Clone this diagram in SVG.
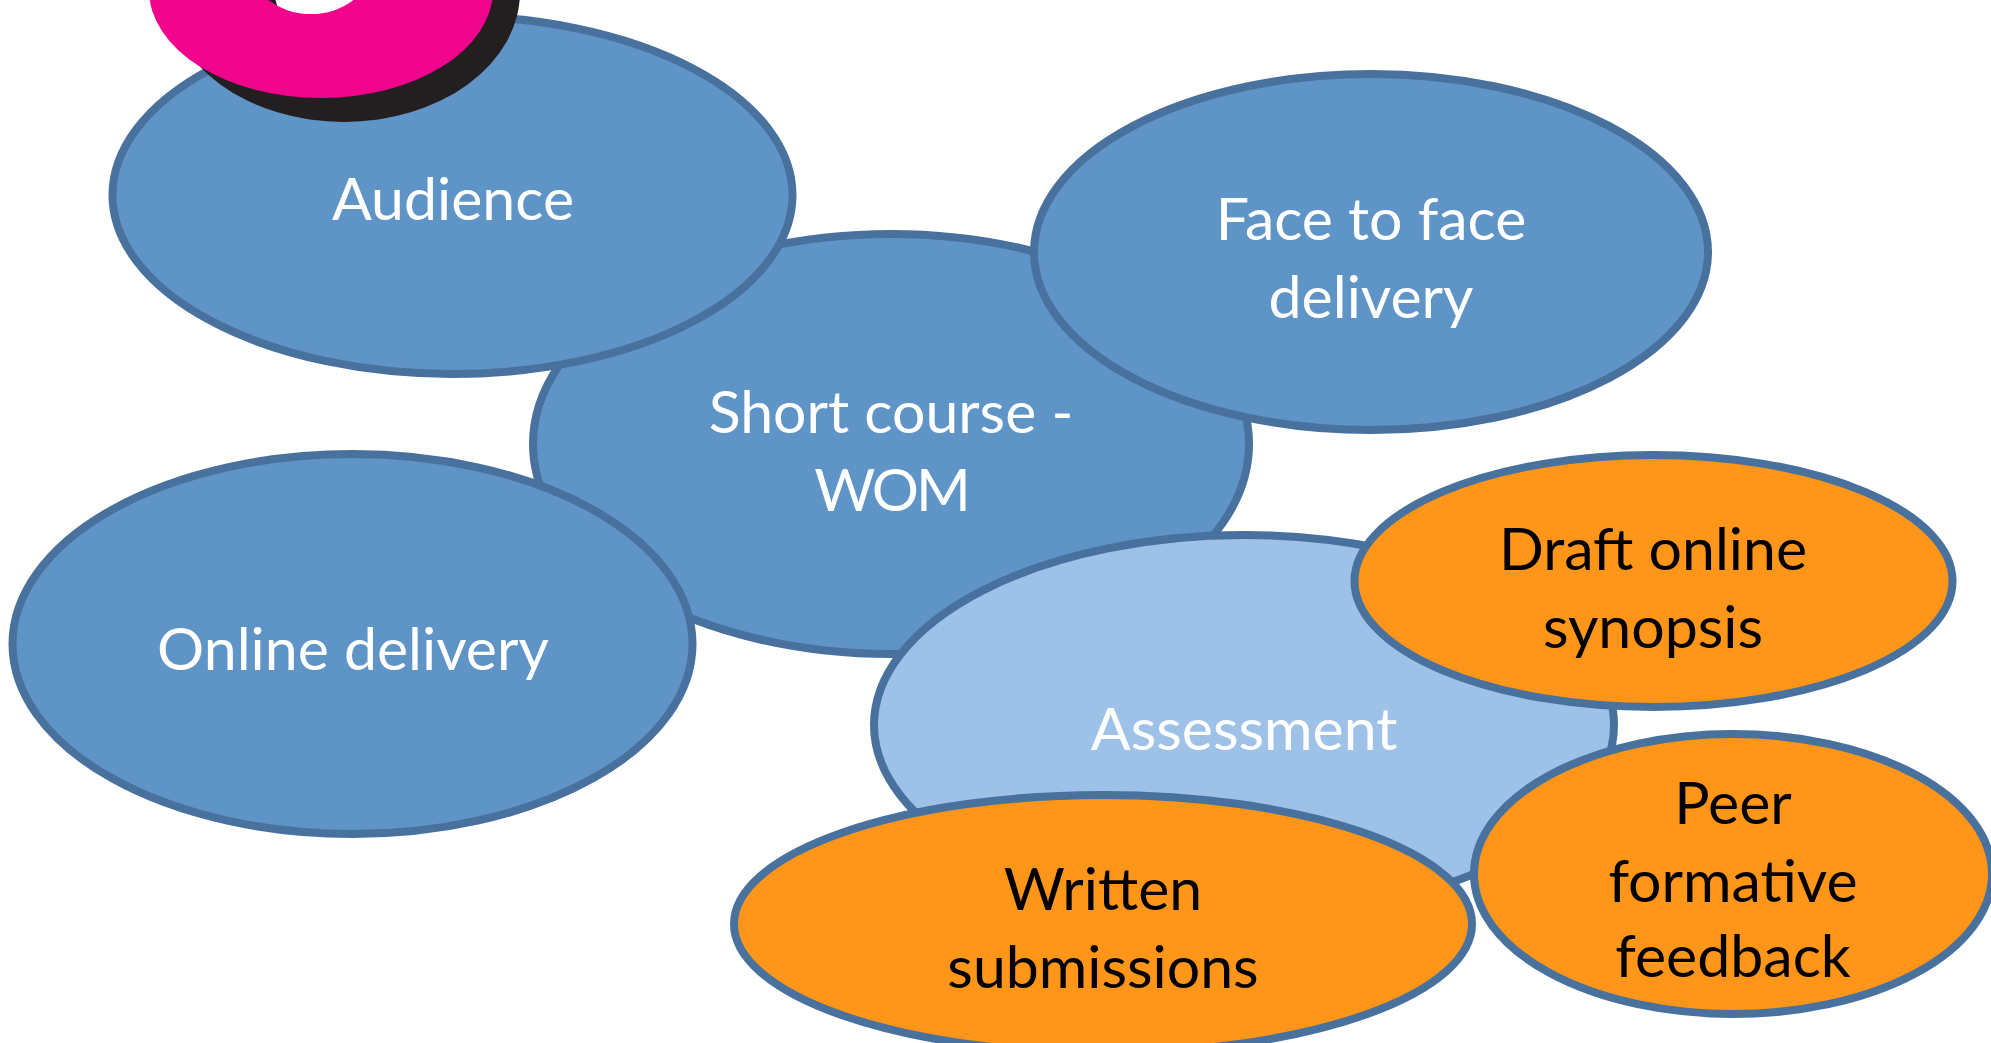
<svg xmlns="http://www.w3.org/2000/svg" width="1991" height="1043" viewBox="0 0 1991 1043">
<style>
.n{fill:#5F94C7;stroke:#48719E;stroke-width:8}
.l{fill:#9EC1E8;stroke:#48719E;stroke-width:8}
.o{fill:#FF9619;stroke:#48719E;stroke-width:8}
text{font-family:"Lato","Liberation Sans",sans-serif;font-size:59px;text-anchor:middle}
.w{fill:#fff}
.b{fill:#000}
</style>
<rect width="1991" height="1043" fill="#fff"/>
<g id="short-course"><ellipse class="n" cx="891" cy="444" rx="358" ry="210"/><text class="w" x="891" y="433">Short course -</text><text class="w" x="891" y="511" letter-spacing="-3">WOM</text></g>
<g id="audience"><ellipse class="n" cx="452.5" cy="195" rx="340" ry="179"/><text class="w" x="453" y="220">Audience</text></g>
<g id="face-to-face"><ellipse class="n" cx="1371" cy="252" rx="337" ry="178"/><text class="w" x="1371" y="240">Face to face</text><text class="w" x="1371" y="318">delivery</text></g>
<g id="online"><ellipse class="n" cx="352.5" cy="644" rx="340" ry="190"/><text class="w" x="353" y="670">Online delivery</text></g>
<g id="assessment"><ellipse class="l" cx="1244" cy="725" rx="370" ry="190"/><text class="w" x="1244" y="750">Assessment</text></g>
<g id="draft"><ellipse class="o" cx="1653.5" cy="581" rx="299" ry="126"/><text class="b" x="1653" y="570">Draft online</text><text class="b" x="1653" y="648">synopsis</text></g>
<g id="written"><ellipse class="o" cx="1103" cy="924" rx="369" ry="129"/><text class="b" x="1103" y="910">Written</text><text class="b" x="1103" y="988">submissions</text></g>
<g id="peer"><ellipse class="o" cx="1733" cy="874" rx="259" ry="140"/><text class="b" x="1733" y="824">Peer</text><text class="b" x="1733" y="902">formative</text><text class="b" x="1733" y="977">feedback</text></g>
<g id="ring">
<path fill="#231F20" fill-rule="evenodd" d="M168 -8a176 130 0 1 0 352 0a176 130 0 1 0 -352 0ZM275 -6a58 44 0 1 0 116 0a58 44 0 1 0 -116 0Z"/>
<path fill="#F0058C" fill-rule="evenodd" d="M149 -10a172 108 0 1 0 344 0a172 108 0 1 0 -344 0ZM253 -30a58 44 0 1 0 116 0a58 44 0 1 0 -116 0Z"/>
</g>
</svg>
